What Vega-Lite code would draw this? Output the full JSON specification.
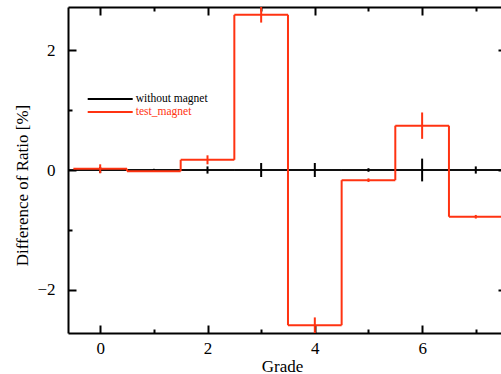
{
  "$schema": "https://vega.github.io/schema/vega-lite/v6.json",
  "width": 433,
  "height": 326,
  "autosize": {"type": "none"},
  "padding": {"left": 68, "top": 7, "right": 0, "bottom": 41},
  "background": "white",
  "data": {
    "values": [
      {"series": "without magnet", "grade": 0, "diff": 0, "err": 0.05},
      {"series": "without magnet", "grade": 1, "diff": 0, "err": 0.02},
      {"series": "without magnet", "grade": 2, "diff": 0, "err": 0.06},
      {"series": "without magnet", "grade": 3, "diff": 0, "err": 0.117},
      {"series": "without magnet", "grade": 4, "diff": 0, "err": 0.117},
      {"series": "without magnet", "grade": 5, "diff": 0, "err": 0.03},
      {"series": "without magnet", "grade": 6, "diff": 0, "err": 0.19},
      {"series": "without magnet", "grade": 7, "diff": 0, "err": 0.06},
      {"series": "test_magnet", "grade": 0, "diff": 0.02, "err": 0.075},
      {"series": "test_magnet", "grade": 1, "diff": -0.02, "err": 0.01},
      {"series": "test_magnet", "grade": 2, "diff": 0.17, "err": 0.075},
      {"series": "test_magnet", "grade": 3, "diff": 2.59, "err": 0.13},
      {"series": "test_magnet", "grade": 4, "diff": -2.59, "err": 0.13},
      {"series": "test_magnet", "grade": 5, "diff": -0.17, "err": 0.03},
      {"series": "test_magnet", "grade": 6, "diff": 0.74, "err": 0.22},
      {"series": "test_magnet", "grade": 7, "diff": -0.78, "err": 0.03}
    ]
  },
  "transform": [
    {"calculate": "datum.grade - 0.5", "as": "lo"},
    {"calculate": "datum.grade + 0.5", "as": "hi"},
    {"calculate": "datum.diff - datum.err", "as": "elo"},
    {"calculate": "datum.diff + datum.err", "as": "ehi"},
    {"window": [{"op": "lead", "field": "diff", "as": "next"}], "groupby": ["series"], "sort": [{"field": "grade", "order": "ascending"}]}
  ],
  "resolve": {"axis": {"x": "independent", "y": "independent"}},
  "layer": [
    {
      "transform": [{"filter": "datum.series === 'without magnet'"}],
      "mark": {"type": "rule", "strokeWidth": 1.5, "clip": true},
      "encoding": {
        "x": {"field": "lo", "type": "quantitative", "scale": {"domain": [-0.6, 7.47], "nice": false, "zero": false},
          "axis": {"orient": "bottom", "title": "Grade", "ticks": false, "values": [0, 2, 4, 6], "labelPadding": 20, "labelBaseline": "alphabetic", "titleX": 214, "titleY": 38, "titleBaseline": "alphabetic", "titleAlign": "center", "domain": true}},
        "x2": {"field": "hi"},
        "y": {"field": "diff", "type": "quantitative", "scale": {"domain": [-2.72, 2.72], "nice": false, "zero": false},
          "axis": {"orient": "left", "title": "Difference of Ratio [%]", "ticks": false, "values": [-2, 0, 2], "labelPadding": 13, "titleX": -41, "titleY": 178, "titleBaseline": "alphabetic", "titleAngle": 270, "titleAlign": "center", "domain": true}},
        "color": {"field": "series", "type": "nominal",
          "scale": {"domain": ["without magnet", "test_magnet"], "range": ["black", "#ff3311"]},
          "legend": {"orient": "none", "legendX": 35.2, "legendY": 85, "title": null, "symbolType": "M-4,0H4", "symbolSize": 126.6, "symbolStrokeWidth": 2, "symbolFillColor": "transparent", "labelFont": "Liberation Serif", "labelFontSize": 11.5, "labelOffset": 18.6, "padding": 0, "rowPadding": -3, "labelColor": "black",
            "encode": {"labels": {"update": {"fill": {"signal": "datum.value === 'test_magnet' ? '#ff3311' : 'black'"}}}}}}
      }
    },
    {
      "transform": [{"filter": "datum.series === 'without magnet' && datum.grade === 0"}],
      "mark": {"type": "rule", "color": "black", "strokeWidth": 1.5},
      "encoding": {
        "y": {"datum": 0, "type": "quantitative", "scale": {"domain": [-2.72, 2.72], "nice": false, "zero": false},
          "axis": {"orient": "left", "title": null, "labels": false, "domain": false, "values": [-2, 0, 2], "tickSize": -8}}
      }
    },
    {
      "transform": [{"filter": "datum.series === 'without magnet'"}],
      "mark": {"type": "rule", "strokeWidth": 2, "clip": true},
      "encoding": {
        "x": {"field": "grade", "type": "quantitative", "scale": {"domain": [-0.6, 7.47], "nice": false, "zero": false},
          "axis": {"orient": "bottom", "title": null, "labels": false, "domain": false, "values": [0, 2, 4, 6], "tickSize": -8}},
        "y": {"field": "elo", "type": "quantitative", "scale": {"domain": [-2.72, 2.72], "nice": false, "zero": false},
          "axis": {"orient": "left", "title": null, "labels": false, "domain": false, "values": [-1, 1], "tickSize": -4}},
        "y2": {"field": "ehi"},
        "color": {"field": "series", "type": "nominal"}
      }
    },
    {
      "transform": [{"filter": "datum.series === 'test_magnet'"}],
      "mark": {"type": "rule", "strokeWidth": 2, "clip": true},
      "encoding": {
        "x": {"field": "lo", "type": "quantitative", "scale": {"domain": [-0.6, 7.47], "nice": false, "zero": false},
          "axis": {"orient": "bottom", "title": null, "labels": false, "domain": false, "values": [1, 3, 5, 7], "tickSize": -4}},
        "x2": {"field": "hi"},
        "y": {"field": "diff", "type": "quantitative", "scale": {"domain": [-2.72, 2.72], "nice": false, "zero": false},
          "axis": {"orient": "right", "title": null, "labels": false, "domain": false, "values": [-2, 0, 2], "tickSize": -3}},
        "color": {"field": "series", "type": "nominal"}
      }
    },
    {
      "transform": [{"filter": "datum.series === 'test_magnet' && datum.next != null"}],
      "mark": {"type": "rule", "strokeWidth": 2, "clip": true},
      "encoding": {
        "x": {"field": "hi", "type": "quantitative", "scale": {"domain": [-0.6, 7.47], "nice": false, "zero": false},
          "axis": {"orient": "top", "title": null, "labels": false, "domain": true, "values": [0, 2, 4, 6], "tickSize": -8}},
        "y": {"field": "diff", "type": "quantitative", "scale": {"domain": [-2.72, 2.72], "nice": false, "zero": false}, "axis": null},
        "y2": {"field": "next"},
        "color": {"field": "series", "type": "nominal"}
      }
    },
    {
      "transform": [{"filter": "datum.series === 'test_magnet'"}],
      "mark": {"type": "rule", "strokeWidth": 2, "clip": true},
      "encoding": {
        "x": {"field": "grade", "type": "quantitative", "scale": {"domain": [-0.6, 7.47], "nice": false, "zero": false},
          "axis": {"orient": "top", "title": null, "labels": false, "domain": false, "values": [1, 3, 5, 7], "tickSize": -4}},
        "y": {"field": "elo", "type": "quantitative", "scale": {"domain": [-2.72, 2.72], "nice": false, "zero": false}, "axis": null},
        "y2": {"field": "ehi"},
        "color": {"field": "series", "type": "nominal"}
      }
    }
  ],
  "config": {
    "view": {"stroke": null},
    "axis": {
      "grid": false,
      "labelFont": "Liberation Serif",
      "labelFontSize": 17,
      "labelColor": "black",
      "titleFont": "Liberation Serif",
      "titleFontSize": 17,
      "titleFontWeight": "normal",
      "titleColor": "black",
      "domainColor": "black",
      "domainWidth": 2,
      "tickColor": "black",
      "tickWidth": 2
    }
  }
}
